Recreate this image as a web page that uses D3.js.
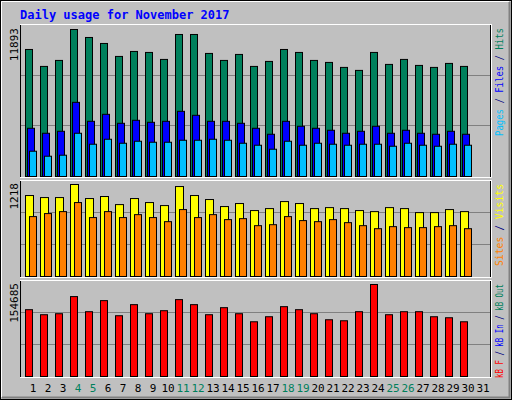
<!DOCTYPE html>
<html>
<head>
<meta charset="utf-8">
<script src="https://cdn.jsdelivr.net/npm/d3@7"></script>
<style>
body{margin:0;background:#fff;}
text{font-family:"DejaVu Sans Mono",monospace;}
</style>
</head>
<body>
<div id="chart"></div>
<script>
const days=d3.range(1,32);
const weekends=[4,5,11,12,18,19,25,26];
const hits=[10277,8906,9391,11893,11248,10763,9714,10117,10037,9472,11490,11490,9956,9391,9875,8906,9310,10277,10037,9391,9229,8826,8584,10037,9068,9472,8987,8826,9148,8906];
const files=[3901,3498,3659,6000,4466,5031,4305,4547,4385,4466,5273,4951,4466,4466,4305,3901,3417,4466,4063,3901,3740,3498,3659,4063,3498,3740,3498,3417,3659,3417];
const pages=[2045,1641,1722,3498,2610,3013,2690,2852,2771,2771,2932,2932,3013,2932,2690,2529,2206,2852,2529,2690,2610,2529,2610,2610,2448,2690,2529,2448,2610,2529];
const visits=[1072,1045,1045,1218,1032,1059,952,1032,979,939,1191,1072,1019,926,966,873,899,992,966,899,912,899,873,859,912,899,846,846,886,859];
const sites=[793,833,859,979,780,859,780,819,780,726,886,780,819,753,766,673,686,793,740,726,753,713,673,633,660,647,647,660,673,633];
const kbytes=[112340,103870,105560,134360,108950,127580,102180,120810,105560,110640,129270,120810,103870,115720,105560,92010,100480,117420,112340,105560,95400,93710,108950,154685,103870,108950,108950,100480,98790,92010];

const W=512,H=400;
const svg=d3.select("#chart").append("svg").attr("width",W).attr("height",H);

//background + bevel
svg.append("rect").attr("x",0).attr("y",0).attr("width",W).attr("height",H).attr("fill","#c0c0c0");
svg.append("rect").attr("x",0.5).attr("y",0.5).attr("width",W-1).attr("height",H-1).attr("fill","none").attr("stroke","#000");
svg.append("path").attr("d","M2,397.5H509.5V2").attr("fill","none").attr("stroke","#808080").attr("stroke-width",2);
svg.append("path").attr("d","M1.5,397V1.5H509").attr("fill","none").attr("stroke","#fff");

svg.append("text").attr("x",20).attr("y",19).attr("fill","#0000ff")
  .attr("font-size",12).attr("font-weight","bold").text("Daily usage for November 2017");

const x=d3.scaleLinear().domain([1,32]).range([25,490]);

const panels=[
  {top:24,bottom:178,base:176,peak:29,max:11893,len:108,
   series:[{v:hits,c:"#00805c",dx:0},{v:files,c:"#0000ff",dx:2},{v:pages,c:"#00c0ff",dx:4}],
   legend:[["Pages","#00c0ff"],[" / ","#000080"],["Files","#0000ff"],[" / ","#000080"],["Hits","#00805c"]]},
  {top:180,bottom:278,base:276,peak:184,max:1218,len:82,
   series:[{v:visits,c:"#ffff00",dx:0,w:8},{v:sites,c:"#ff8000",dx:4}],
   legend:[["Sites","#ff8000"],[" / ","#000080"],["Visits","#ffff00"]]},
  {top:280,bottom:378,base:376,peak:284,max:154685,len:94,
   series:[{v:kbytes,c:"#ff0000",dx:0}],
   legend:[["kB F","#ff0000"],[" / ","#000080"],["kB In","#0000ff"],[" / ","#000080"],["kB Out","#00805c"]]}
];

panels.forEach(p=>{
  const y=d3.scaleLinear().domain([0,p.max]).range([p.base,p.peak]);
  const g=svg.append("g");
  g.append("rect").attr("x",20.5).attr("y",p.top+0.5).attr("width",470).attr("height",p.bottom-p.top-1)
    .attr("fill","#c0c0c0").attr("stroke","#000");
  g.append("path").attr("d",`M20,${p.bottom-0.5}H491.5V${p.top}`).attr("fill","none").attr("stroke","#fff");
  g.append("path").attr("d",`M20,${p.top+0.5}H491`).attr("fill","none").attr("stroke","#fff");
  //grid lines at thirds of panel height
  const h=(p.base-p.top);
  [1,2].forEach(k=>{
    const gy=Math.round(p.base-h*k/3)+0.5;
    g.append("line").attr("x1",21).attr("x2",490).attr("y1",gy).attr("y2",gy).attr("stroke","#808080");
  });
  p.series.forEach(s=>{
    g.selectAll(null).data(s.v).enter().append("rect")
      .attr("x",(d,i)=>x(i+1)+s.dx+0.5)
      .attr("y",d=>y(d)+0.5)
      .attr("width",s.w||7)
      .attr("height",d=>p.base-y(d))
      .attr("fill",s.c).attr("stroke","#000");
  });
  svg.append("text").attr("transform",`translate(18,${p.peak-1}) rotate(-90)`)
    .attr("text-anchor","end").attr("font-size",11).attr("font-family","DejaVu Sans, sans-serif").text(d3.format("d")(p.max));
  const t=svg.append("text").attr("transform",`translate(503,${p.top+4}) rotate(-90)`)
    .attr("text-anchor","end").attr("font-size",10)
    .attr("textLength",p.len).attr("lengthAdjust","spacingAndGlyphs");
  t.selectAll("tspan").data(p.legend).enter().append("tspan").attr("fill",d=>d[1]).text(d=>d[0]);
});

svg.selectAll("text.day").data(days).enter().append("text").attr("class","day")
  .attr("x",d=>x(d)+8).attr("y",392).attr("text-anchor","middle")
  .attr("font-size",11).attr("font-family","DejaVu Sans, sans-serif")
  .attr("fill",d=>weekends.includes(d)?"#00805c":"#000").text(d=>d);
</script>
</body>
</html>
